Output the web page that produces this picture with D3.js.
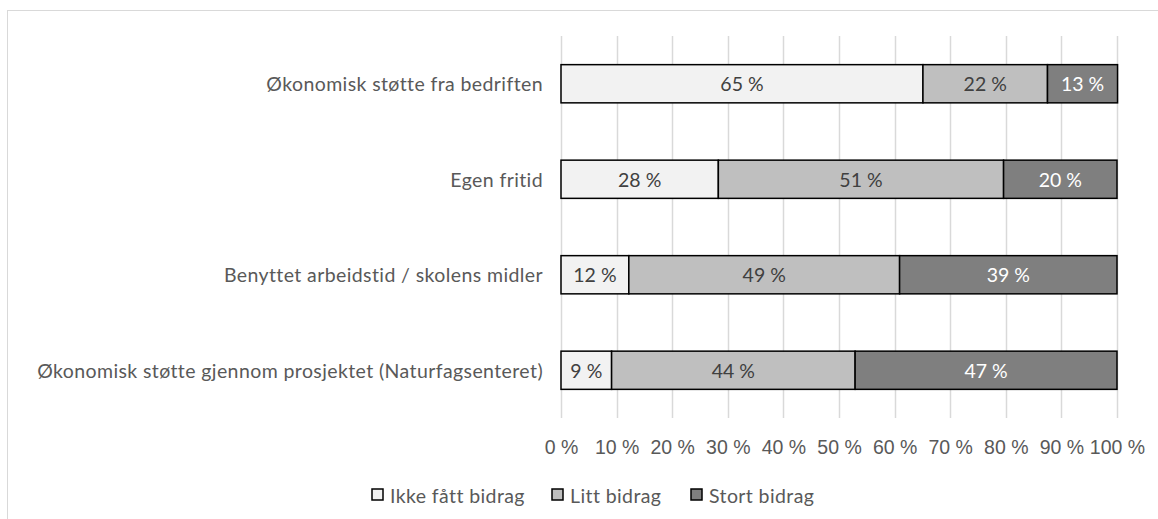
<!DOCTYPE html>
<html>
<head>
<meta charset="utf-8">
<script src="https://cdn.jsdelivr.net/npm/d3@7"></script>
<style>
  body { margin: 0; background: #fff; }
  svg { font-family: Lato, "Open Sans", sans-serif; }
</style>
</head>
<body>
<svg width="1158" height="519"></svg>
<script>
var categories = [
  "Økonomisk støtte fra bedriften",
  "Egen fritid",
  "Benyttet arbeidstid / skolens midler",
  "Økonomisk støtte gjennom prosjektet (Naturfagsenteret)"
]
var seriesNames = ["Ikke fått bidrag", "Litt bidrag", "Stort bidrag"]
var ikkeFatt = [65.1, 28.3, 12.2, 9.1]
var litt = [22.4, 51.3, 48.7, 43.8]
var stort = [12.6, 20.4, 39.1, 47.1]
var ticks = [0, 10, 20, 30, 40, 50, 60, 70, 80, 90, 100]

var
  svg = d3.select("svg"),
  margin = { top: 36, left: 561, right: 41, bottom: 101 },
  width = 1158 - margin.left - margin.right,
  height = 519 - margin.top - margin.bottom

var colors = ["#f2f2f2", "#bfbfbf", "#7f7f7f"]
var textColors = ["#404040", "#404040", "#ffffff"]
var fontSize = 19.5

// chart frame (only top and left edges are visible in the picture)
svg.append("rect")
  .attr("x", 7.5).attr("y", 10.5)
  .attr("width", 1200).attr("height", 600)
  .attr("fill", "none").attr("stroke", "#d9d9d9")

var rows = categories.map((c, i) => ({
  cat: c, "Ikke fått bidrag": ikkeFatt[i], "Litt bidrag": litt[i], "Stort bidrag": stort[i]
}))
var stacked = d3.stack().keys(seriesNames)(rows)

var x = d3.scaleLinear().domain([0, 100]).range([0, width])
var y = d3.scaleBand().domain(categories).range([0, height]).paddingInner(0.6).paddingOuter(0.3)

var g = svg.append("g").attr("transform", `translate(${margin.left},${margin.top})`)

g.append("g").selectAll("line").data(ticks).join("line")
  .attr("x1", d => Math.round(x(d)) + 0.5).attr("x2", d => Math.round(x(d)) + 0.5)
  .attr("y1", 0).attr("y2", height)
  .attr("stroke", "#d9d9d9").attr("stroke-width", 1.5)

var layers = g.selectAll("g.layer").data(stacked).join("g").attr("class", "layer")

layers.selectAll("rect").data(d => d).join("rect")
  .attr("x", d => x(d[0]))
  .attr("width", d => x(d[1]) - x(d[0]))
  .attr("y", d => y(d.data.cat))
  .attr("height", y.bandwidth())
  .attr("fill", function() { return colors[d3.select(this.parentNode).datum().index] })
  .attr("stroke", "#000").attr("stroke-width", 1.5)

layers.selectAll("text").data(d => d).join("text")
  .attr("x", d => x((d[0] + d[1]) / 2))
  .attr("y", d => y(d.data.cat) + y.bandwidth() / 2)
  .attr("text-anchor", "middle").attr("dominant-baseline", "central")
  .attr("font-size", fontSize)
  .attr("fill", function() { return textColors[d3.select(this.parentNode).datum().index] })
  .text(function(d) {
    let key = d3.select(this.parentNode).datum().key
    return Math.round(d.data[key]) + " %"
  })

// category labels
g.selectAll("text.cat").data(categories).join("text").attr("class", "cat")
  .attr("x", -18).attr("y", d => y(d) + y.bandwidth() / 2)
  .attr("text-anchor", "end").attr("dominant-baseline", "central")
  .attr("font-size", fontSize).attr("letter-spacing", 0.4).attr("fill", "#595959")
  .text(d => d)

// x axis labels
var xAxis = d3.axisBottom(x).tickValues(ticks).tickSize(0).tickPadding(0)
  .tickFormat(d => d + " %")
var ax = g.append("g").attr("transform", `translate(0,${height + 22})`).call(xAxis)
ax.select(".domain").remove()
ax.selectAll("text").attr("font-size", fontSize).attr("fill", "#595959").attr("font-family", null)

// legend
var legendX = [372, 552, 691]
var legend = svg.append("g").selectAll("g").data(seriesNames).join("g")
  .attr("transform", (d, i) => `translate(${legendX[i]},489)`)
legend.append("rect")
  .attr("width", 11).attr("height", 11)
  .attr("fill", (d, i) => colors[i]).attr("stroke", "#000").attr("stroke-width", 1.5)
legend.append("text")
  .attr("x", 18).attr("y", 6).attr("dominant-baseline", "central")
  .attr("font-size", fontSize).attr("letter-spacing", 0.4).attr("fill", "#595959")
  .text(d => d)
</script>
</body>
</html>
